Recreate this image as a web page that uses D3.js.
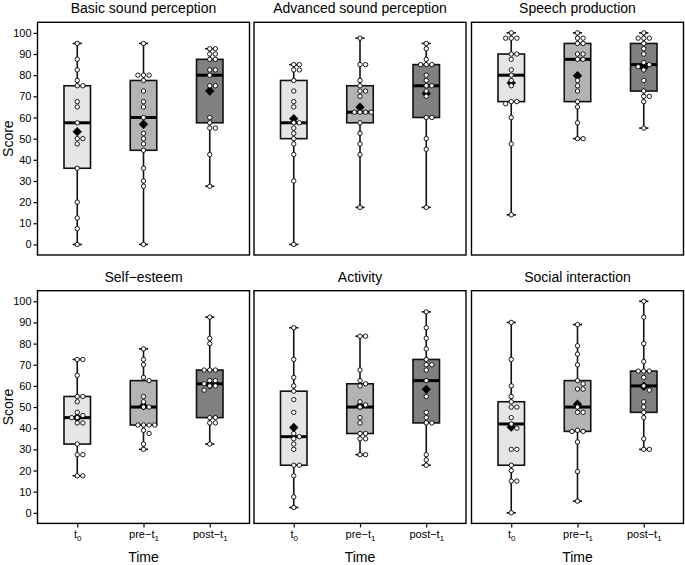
<!DOCTYPE html>
<html>
<head>
<meta charset="utf-8">
<title>Scores by time</title>
<style>
  body { margin: 0; background: #fff; }
  text { font-family: "Liberation Sans", Arial, sans-serif; fill: #000; }
</style>
</head>
<body>
<div id="chart"></div>
<script src="https://cdn.jsdelivr.net/npm/d3@7/dist/d3.min.js"></script>
<script>
// facet titles, left to right, top to bottom
const panelTitles = ["Basic sound perception", "Advanced sound perception", "Speech production",
                     "Self\u2212esteem", "Activity", "Social interaction"];
const timePoints = ["t0", "pre-t1", "post-t1"];
const timeBase = ["t", "pre\u2212t", "post\u2212t"];
const timeSub = ["0", "1", "1"];
const yTicks = [0, 10, 20, 30, 40, 50, 60, 70, 80, 90, 100];

// individual scores per time point (t0, pre-t1, post-t1)
const basicSound = [
  [95, 87.5, 82.5, 77.5, 75, 75, 67.5, 65, 57.5, 50, 50, 47.5, 36, 20, 12.5, 7.5, 0],
  [95, 80, 80, 80, 77.5, 72.5, 67.5, 65, 60, 52.5, 50, 47.5, 44.5, 36, 30, 27.5, 0],
  [92.5, 92.5, 90, 90, 87.5, 87.5, 82.5, 82.5, 80, 75, 75, 60, 57.5, 55, 55, 42.5, 27.5]
];
const advancedSound = [
  [85, 85, 82.5, 82.5, 77.5, 72.5, 67.5, 65, 57.5, 57.5, 55, 52.5, 50, 47.5, 42.5, 30, 0],
  [97.5, 85, 85, 77.5, 75, 72.5, 72.5, 70, 62.5, 62.5, 62.5, 62.5, 57.5, 52.5, 47.5, 42.5, 17.5],
  [95, 92.5, 87.5, 85, 85, 85, 80, 77.5, 75, 75, 72.5, 70, 60, 60, 50, 45, 17.5]
];
const speechProduction = [
  [100, 97.5, 97.5, 97.5, 90, 90, 87.5, 82.5, 80, 77.5, 75, 67.5, 67.5, 66.5, 60, 47.5, 14],
  [100, 97.5, 97.5, 95, 95, 90, 90, 87.5, 87.5, 77.5, 75, 72.5, 67.5, 65, 57.5, 50, 50],
  [100, 97.5, 97.5, 97.5, 95, 92.5, 90, 86, 85, 84, 82.5, 77.5, 72.5, 70, 70, 67.5, 55]
];
const selfEsteem = [
  [72.5, 72.5, 65, 55, 55, 52.5, 47.5, 46, 45, 45, 42.5, 42.5, 32.5, 27.5, 27.5, 17.5, 17.5],
  [77.5, 72.5, 70, 64, 62.5, 55, 52.5, 50, 50, 41.5, 41.5, 41.5, 41.5, 39, 37.5, 32.5, 30],
  [92.5, 82.5, 80, 67.5, 67.5, 67.5, 62.5, 62.5, 61, 60, 60, 58, 45, 45, 42.5, 42.5, 32.5]
];
const activity = [
  [87.5, 72.5, 64, 60, 57.5, 53.5, 47.5, 37.5, 36, 35, 32.5, 30, 22.5, 22.5, 17.5, 7.5, 2.5],
  [83.5, 83.5, 67.5, 62.5, 61, 60, 52.5, 51, 50, 45, 42.5, 37.5, 37.5, 35, 35, 27.5, 27.5],
  [95, 87.5, 82.5, 77.5, 72.5, 70, 70, 67.5, 62.5, 55, 47.5, 45, 42.5, 42.5, 27.5, 25, 22.5]
];
const socialInteraction = [
  [90, 72.5, 60, 55, 52.5, 50, 50, 45, 42, 40, 30, 30, 22.5, 20, 15, 15, 0],
  [89, 79, 75, 70, 62.5, 61, 58.5, 58.5, 50, 47.5, 47.5, 39, 38.5, 38.5, 33.5, 19.5, 5.5],
  [100, 92.5, 80, 71.5, 67, 67, 67, 64, 60, 58, 52.5, 50, 47.5, 45, 35, 30, 30]
];

const allScores = [basicSound, advancedSound, speechProduction, selfEsteem, activity, socialInteraction];
const boxFills = ["#e5e5e5", "#b3b3b3", "#808080"];

// layout
const width = 685, height = 565;
const panelW = 212, panelH = 232.7;
const panelX = [37.5, 254, 471.5];
const panelY = [22.3, 290.7];

const svg = d3.select("#chart").append("svg")
    .attr("width", width)
    .attr("height", height);

const x = d3.scalePoint().domain(timePoints).range([0, panelW]).padding(0.6);
const y = d3.scaleLinear().domain([-5, 105]).range([panelH, 0]);
const step = x.step();
const boxW = step * 0.4;
const capW = step * 0.14;

// simple swarm so tied scores sit side by side
function swarm(values, cx) {
  const r = 2.3, dx = 5.6;
  const placed = [];
  values.slice().sort((a, b) => b - a).forEach(v => {
    const py = y(v);
    const tries = [0, dx, -dx, 2 * dx, -2 * dx, 3 * dx, -3 * dx];
    for (const t of tries) {
      const px = cx + t;
      if (!placed.some(p => Math.hypot(p.x - px, p.y - py) < 2 * r + 0.6)) {
        placed.push({ x: px, y: py, v: v });
        break;
      }
    }
  });
  return placed;
}

allScores.forEach((groups, pi) => {
  const col = pi % 3, row = Math.floor(pi / 3);
  const g = svg.append("g")
      .attr("transform", "translate(" + panelX[col] + "," + panelY[row] + ")");

  groups.forEach((vals, gi) => {
    const cx = x(timePoints[gi]);
    const sorted = vals.slice().sort(d3.ascending);
    const q1 = d3.quantile(sorted, 0.25);
    const med = d3.quantile(sorted, 0.5);
    const q3 = d3.quantile(sorted, 0.75);
    const lo = d3.min(sorted), hi = d3.max(sorted);
    const mean = d3.mean(sorted);

    // whisker and caps
    g.append("line")
        .attr("x1", cx).attr("x2", cx)
        .attr("y1", y(lo)).attr("y2", y(hi))
        .attr("stroke", "#111").attr("stroke-width", 1.6);
    [lo, hi].forEach(v => {
      g.append("line")
          .attr("x1", cx - capW / 2).attr("x2", cx + capW / 2)
          .attr("y1", y(v)).attr("y2", y(v))
          .attr("stroke", "#111").attr("stroke-width", 1.6);
    });

    // box
    g.append("rect")
        .attr("x", cx - boxW / 2)
        .attr("y", y(q3))
        .attr("width", boxW)
        .attr("height", y(q1) - y(q3))
        .attr("fill", boxFills[gi])
        .attr("stroke", "#111")
        .attr("stroke-width", 1.6);
    g.append("line")
        .attr("x1", cx - boxW / 2).attr("x2", cx + boxW / 2)
        .attr("y1", y(med)).attr("y2", y(med))
        .attr("stroke", "#000").attr("stroke-width", 3);

    // mean
    g.append("path")
        .attr("d", d3.symbol(d3.symbolSquare, 44)())
        .attr("transform", "translate(" + cx + "," + y(mean) + ") rotate(45)")
        .attr("fill", "#000");

    // individual scores
    g.selectAll(null)
      .data(swarm(vals, cx))
      .join("circle")
        .attr("cx", d => d.x)
        .attr("cy", d => d.y)
        .attr("r", 2.2)
        .attr("fill", "#fff")
        .attr("stroke", "#000")
        .attr("stroke-width", 0.9);
  });

  // panel frame
  g.append("rect")
      .attr("width", panelW).attr("height", panelH)
      .attr("fill", "none")
      .attr("stroke", "#000")
      .attr("stroke-width", 1.4);

  // facet title
  svg.append("text")
      .attr("x", panelX[col] + panelW / 2)
      .attr("y", panelY[row] - 9)
      .attr("text-anchor", "middle")
      .attr("font-size", 14)
      .text(panelTitles[pi]);

  if (col === 0) {
    const ay = g.append("g")
        .call(d3.axisLeft(y).tickValues(yTicks).tickSize(4).tickPadding(2));
    ay.select(".domain").remove();
    ay.selectAll(".tick line").attr("stroke", "#000").attr("stroke-width", 1.2);
    ay.selectAll(".tick text").attr("font-size", 11).attr("font-family", "Liberation Sans, Arial, sans-serif").attr("fill", "#000");

    svg.append("text")
        .attr("transform", "translate(13," + (panelY[row] + panelH / 2) + ") rotate(-90)")
        .attr("text-anchor", "middle")
        .attr("font-size", 14)
        .text("Score");
  }

  if (row === 1) {
    const ax = g.append("g")
        .attr("transform", "translate(0," + panelH + ")")
        .call(d3.axisBottom(x).tickSize(4).tickPadding(3).tickFormat(""));
    ax.select(".domain").remove();
    ax.selectAll(".tick line").attr("stroke", "#000").attr("stroke-width", 1.2);
    ax.selectAll(".tick text").each(function(d, i) {
      const t = d3.select(this)
          .attr("font-size", 11)
          .attr("font-family", "Liberation Sans, Arial, sans-serif")
          .attr("fill", "#000");
      t.append("tspan").text(timeBase[i]);
      t.append("tspan").attr("font-size", 8).attr("dy", 3).text(timeSub[i]);
    });

    svg.append("text")
        .attr("x", panelX[col] + panelW / 2)
        .attr("y", 562)
        .attr("text-anchor", "middle")
        .attr("font-size", 14)
        .text("Time");
  }
});
</script>
</body>
</html>
